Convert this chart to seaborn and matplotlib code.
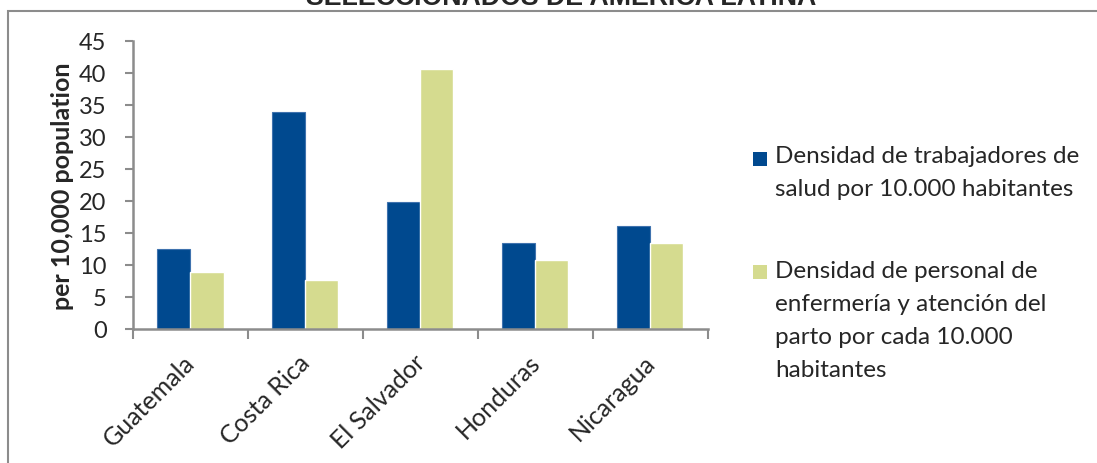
import numpy as np
import pandas as pd
import seaborn as sns
import matplotlib.pyplot as plt
from matplotlib.patches import Rectangle
from matplotlib.transforms import ScaledTranslation

# datos
paises = ["Guatemala", "Costa Rica", "El Salvador", "Honduras", "Nicaragua"]
trabajadores = [12.5, 33.8, 19.9, 13.5, 16.0]
enfermeria = [8.9, 7.7, 40.6, 10.8, 13.5]
series = ["Densidad de trabajadores de\nsalud por 10.000 habitantes",
          "Densidad de personal de\nenfermería y atención del\nparto por cada 10.000\nhabitantes"]
colores = ["#00498F", "#D5DB8F"]
yticks = list(range(0, 50, 5))
titulo = "SELECCIONADOS DE AMÉRICA LATINA"

df = pd.DataFrame({
    "pais": paises * 2,
    "valor": trabajadores + enfermeria,
    "serie": [series[0]] * len(paises) + [series[1]] * len(paises),
})

sns.set_style("white")
plt.rcParams["font.family"] = ["Lato", "DejaVu Sans"]

W, H = 1097, 464
fig = plt.figure(figsize=(W / 100, H / 100), dpi=100)
ax = fig.add_axes([133 / W, 1 - 330 / H, (707.7 - 133) / W, (330 - 41.7) / H])

sns.barplot(data=df, x="pais", y="valor", hue="serie", palette=colores,
            width=0.575, saturation=1, legend=False, ax=ax)
for p in ax.patches[:len(paises)]:
    p.set_edgecolor("#3F72AE")
    p.set_linewidth(0.8)

gris = "#8C8C8C"
ax.set_xlim(-0.5, len(paises) - 0.5)
ax.set_ylim(0, 45)
ax.set_yticks(yticks)
ax.set_xlabel("")
ax.set_ylabel("per 10,000 population", fontsize=18, fontweight="bold")
ax.yaxis.set_label_coords(-0.103, 0.5)
sns.despine(ax=ax)
for s in ["left", "bottom"]:
    ax.spines[s].set_color(gris)
    ax.spines[s].set_linewidth(1.8)

ax.tick_params(axis="y", direction="out", length=6, width=1.5, color=gris,
               labelsize=17, pad=13, left=True)
ax.set_xticks(np.arange(-0.5, len(paises)), minor=True)
ax.tick_params(axis="x", which="minor", direction="out", length=7, width=1.5,
               color=gris, bottom=True)
ax.tick_params(axis="x", which="major", length=0, labelsize=18, pad=15)
corr = ScaledTranslation(0.09, 0, fig.dpi_scale_trans)
for lab in ax.get_xticklabels():
    lab.set_rotation(45)
    lab.set_ha("right")
    lab.set_va("top")
    lab.set_transform(lab.get_transform() + corr)

# leyenda a la derecha, cuadro alineado con la primera linea
y_cuadro = [159.5, 272.5]
y_texto = [146, 261]
for col, txt, yc, yt in zip(colores, series, y_cuadro, y_texto):
    fig.add_artist(Rectangle((753 / W, 1 - (yc + 7) / H), 14 / W, 14 / H,
                             transform=fig.transFigure, facecolor=col,
                             edgecolor="none"))
    fig.text(775 / W, 1 - yt / H, txt, fontsize=17.5, va="top",
             ha="left", linespacing=1.7)

# titulo cortado y marco
fig.text(561.5 / W, 1 - 5 / H, titulo, fontsize=19.3, fontweight="bold",
         family=["Liberation Sans", "DejaVu Sans"], ha="center", va="baseline")
fig.add_artist(Rectangle((8 / W, -0.1), 1.2, 1 - 12 / H + 0.1,
                         transform=fig.transFigure, fill=False,
                         edgecolor=gris, linewidth=1.5))

fig.savefig("out.png", dpi=100)
